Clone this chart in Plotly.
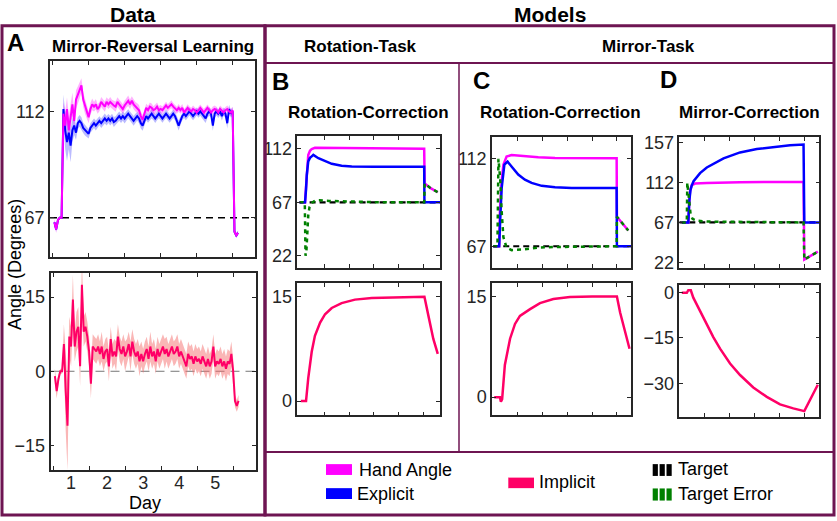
import plotly.graph_objects as go

W, H = 837, 521
FONT = "Liberation Sans, Arial, sans-serif"
INK = "#262626"
FRAME = "#6e1552"
HAND = "#ff00ff"
EXPL = "#0000ff"
IMPL = "#ff0066"
TERR = "#008000"

# ---------------- Panel A: data (one value every 0.05 day, from day 0.55) ----------------
day_start, day_step = 0.55, 0.05

hand_mean = [65, 62, 66, 67, 67, 111, 106, 113, 104, 110,
             115, 108, 117, 119, 121, 123, 117, 114, 112, 109.5,
             113, 115, 114, 115, 113, 114, 116, 115, 114, 116,
             115, 116, 115, 114.5, 114, 116, 115, 114, 113, 114.5,
             115.5, 116.5, 115, 116.5, 115, 114, 113.5, 112.5, 110, 108.5,
             111, 113.5, 112.5, 114, 113.5, 112.5, 113, 114, 112.5, 113,
             112.5, 113.5, 114.5, 113.5, 114.5, 115, 114, 113, 112.5, 113.5,
             112.5, 113.5, 111.5, 112.5, 113.5, 112.5, 112, 113, 112.5, 111.5,
             112.5, 113.5, 112.5, 111.5, 112.5, 113.5, 112.5, 111.5, 112.5, 113,
             112.5, 111.5, 113, 112, 111.5, 112.5, 113, 112, 111.5, 112.5,
             61, 59.5, 60.5]
hand_sem = [1.5, 1.5, 1, 0.5, 0.5, 5, 6, 5, 6, 5,
            5, 4, 4, 3.5, 3.5, 3, 3, 3, 3, 2.5,
            2.5, 2.5, 2, 2.2, 2, 1.9, 2.1, 2, 2.2, 2,
            2, 2.1, 1.9, 2, 2.2, 2, 1.9, 2.1, 2, 2,
            2, 2.2, 2, 1.9, 2.1, 2, 2, 2.2, 2, 2,
            1.8, 1.7, 1.9, 1.8, 1.8, 1.7, 1.9, 1.8, 1.8, 1.7,
            1.6, 1.7, 1.6, 1.5, 1.6, 1.7, 1.6, 1.6, 1.5, 1.6,
            1.5, 1.6, 1.5, 1.4, 1.5, 1.6, 1.5, 1.5, 1.4, 1.5,
            1.5, 1.4, 1.5, 1.6, 1.5, 1.4, 1.5, 1.5, 1.6, 1.5,
            1.5, 1.4, 1.5, 1.6, 1.5, 1.4, 1.5, 1.5, 1.6, 1.5,
            1, 1, 1]

expl_mean = [65, 62, 66, 67, 67, 113, 104, 99, 103, 97.5,
             104, 106, 103, 107, 108, 107, 105, 104, 103, 102.5,
             105, 106, 107, 106, 107, 108, 107, 108, 109, 108,
             109, 108, 109, 107.5, 108, 109, 110, 109, 110, 109,
             110, 111, 110, 109, 108, 109, 110, 109, 107, 106,
             108, 110, 109, 110, 111, 110, 109, 110, 111, 110,
             109, 110, 111, 110, 109, 110, 111, 110, 108, 106,
             108, 110, 111, 110, 111, 112, 111, 110, 111, 112,
             111, 112, 111, 110, 109, 111, 112, 111, 106, 111,
             112, 111, 112, 110, 112, 111, 107, 113, 111, 112,
             61, 59.5, 60.5]
expl_sem = [1, 1, 1, 0.5, 0.5, 6, 8, 8, 7, 7,
            5, 4, 3, 2.5, 2.5, 2.5, 2.2, 2.2, 2, 2,
            2, 1.9, 2, 2.1, 2, 1.9, 2, 2, 2.1, 2,
            1.9, 2, 2, 2.1, 1.9, 2, 2, 1.9, 2, 2.1,
            2, 1.9, 2, 2, 2.1, 2, 1.9, 2, 2.2, 2.2,
            2, 1.9, 1.8, 1.9, 2, 1.8, 1.9, 1.8, 1.9, 1.8,
            1.8, 1.7, 1.8, 1.9, 1.8, 1.7, 1.8, 1.8, 2, 2.1,
            1.8, 1.7, 1.8, 1.7, 1.8, 1.7, 1.8, 1.7, 1.8, 1.7,
            1.7, 1.8, 1.7, 1.8, 1.9, 1.7, 1.8, 1.7, 2.2, 1.8,
            1.7, 1.8, 1.7, 1.9, 1.7, 1.8, 2.2, 1.8, 1.7, 1.8,
            1, 1, 1]

impl_mean = [-1, -4, -1.5, 0, 0, 5.5, -4, -11, 7, 5,
             14.5, 5, 8, 9, 1, 17.5, 8, 9, 7, 4,
             -2.5, 5, 4.5, 4, 5, 3.5, 5, 2.5, 4, 4.5,
             1, 6.5, 3, 4, 3, 7, 4.5, 3.5, 5, 3,
             4, 5.5, 3, 6, 4, 3, 4, 2, 3.5, 2,
             3.5, 4.5, 2.5, 5, 3, 4, 2, 4.5, 3, 4,
             5, 3.5, 4.5, 3, 4, 5, 3.5, 4, 5, 3,
             4, 3, 2, 1, 3.5, 2.5, 3, 1.5, 3, 2,
             2.5, 1.5, 3, 2, 1, 2.5, 1, 2, 5, 1,
             2, 1.5, 2.5, 1, 2, 0.5, 2, 1.5, 3.5, 0,
             -6, -7, -6]
impl_sem = [1.5, 1.5, 1, 0.5, 0.5, 4, 8, 9, 4, 4,
            5, 3, 4, 4, 4, 5, 3, 3, 3, 3,
            3, 2.5, 2.5, 2.5, 2.5, 2.5, 3, 2.5, 2.5, 2.5,
            3, 2.5, 2.5, 2.5, 3, 2.5, 2.5, 2.5, 2.5, 3,
            2.5, 2.5, 3, 2.5, 2.5, 2.5, 2.5, 3, 2.5, 2.5,
            2.5, 2.5, 2.5, 3, 2.5, 2.5, 2.5, 2.5, 2.5, 2.5,
            2.5, 3, 2.5, 2.5, 2.5, 2.5, 2.5, 2.5, 2.5, 2.5,
            2.5, 2.5, 2.5, 2.5, 2.5, 2.5, 2.5, 2.5, 2.5, 2.5,
            2.5, 2.5, 2.5, 2.5, 2.5, 2.5, 2.5, 2.5, 2.5, 2.5,
            2.5, 2.5, 2.5, 2.5, 2.5, 2.5, 2.5, 2.5, 2.5, 2.5,
            1.2, 1.2, 1.2]

days = [round(day_start + day_step * i, 2) for i in range(len(hand_mean))]
day_labels = [1, 2, 3, 4, 5]
day_ticks = [0.5, 1.5, 2.5, 3.5, 4.5, 5.5]
target_angle = 67

# ---------------- Models (x in blocks of trials, ticks at 1..5) ----------------
# B: rotation task, rotation-correction model
b_hand_t = [0, 0.22, 0.26, 0.29, 0.35, 0.42, 0.49, 0.62, 1.0, 2.0, 3.0, 4.0, 5.04, 5.06, 5.3, 5.59]
b_hand = [67, 67, 80, 93, 107, 110.5, 112, 113, 113, 112.8, 112.6, 112.4, 112.3, 83, 79, 75.5]
b_expl_t = [0, 0.22, 0.26, 0.29, 0.35, 0.42, 0.49, 0.555, 0.76, 1.03, 1.3, 1.7, 2.11, 3.0, 4.0, 5.04, 5.05, 5.68]
b_expl = [67, 67, 78, 90, 101.5, 104.5, 105.8, 107, 104.2, 101.5, 99.5, 97.9, 97.3, 97, 97, 97, 67, 67]
b_terr_t = [0, 0.21, 0.24, 0.27, 0.31, 0.35, 0.4, 0.5, 0.62, 0.8, 1.2, 2.0, 3.0, 4.0, 5.04, 5.06, 5.3, 5.59]
b_terr = [67, 67, 22, 24, 40, 56, 63, 66.5, 68.5, 68.7, 68.2, 67.5, 67.2, 67, 67, 83, 79, 75.5]
b_impl_t = [0.05, 0.26, 0.35, 0.49, 0.62, 0.83, 1.03, 1.3, 1.7, 2.24, 2.92, 4.0, 5.05, 5.21, 5.41, 5.59]
b_impl = [0, 0, 3.3, 7.1, 9.4, 11.3, 12.5, 13.4, 14.1, 14.6, 14.85, 14.95, 15, 12.3, 8.95, 6.8]

# C: mirror task, rotation-correction model
c_hand_t = [0, 0.24, 0.27, 0.34, 0.41, 0.54, 0.74, 1.15, 1.82, 2.5, 3.5, 4.99, 5.0, 5.2, 5.46]
c_hand = [67, 67, 85, 100.5, 109, 113.2, 114, 113.5, 112.8, 112.4, 112.3, 112.3, 82.2, 79, 75.1]
c_expl_t = [0, 0.24, 0.28, 0.34, 0.45, 0.58, 0.74, 1.01, 1.28, 1.55, 1.96, 2.5, 3.17, 4.99, 5.0, 5.57]
c_expl = [67, 67, 80, 97, 109, 110.6, 108.1, 103.9, 101.3, 99.6, 98.1, 97.4, 97, 97, 67, 67]
c_terr_t = [0, 0.17, 0.21, 0.28, 0.34, 0.41, 0.54, 0.74, 1.15, 1.82, 2.5, 4.99, 5.0, 5.2, 5.46]
c_terr = [67, 67, 112, 102, 85, 71.7, 66.3, 65, 65.3, 66.3, 66.6, 67, 82.2, 79, 75.1]
c_impl_t = [0.04, 0.27, 0.31, 0.36, 0.47, 0.68, 0.88, 1.08, 1.49, 1.89, 2.43, 3.1, 4.0, 5.0, 5.13, 5.33, 5.51]
c_impl = [0, 0, -0.7, -0.3, 4.8, 8.7, 10.9, 12.1, 13.1, 14.0, 14.6, 14.9, 15, 15, 12.6, 9.6, 7.2]

# D: mirror task, mirror-correction model
d_hand_t = [0.1, 0.36, 0.4, 0.43, 0.5, 0.63, 1.1, 2.43, 4.97, 5.0, 5.54]
d_hand = [67, 67, 91.3, 102.5, 109.1, 111, 111.7, 112.5, 112.8, 25, 34]
d_expl_t = [0.1, 0.36, 0.40, 0.45, 0.5, 0.57, 0.83, 1.1, 1.77, 2.43, 3.1, 3.77, 4.43, 4.97, 5.0, 5.6]
d_expl = [67, 67, 91.3, 104, 109, 113.6, 122.8, 129.2, 139.5, 146.2, 150, 152.5, 154.4, 155.1, 67, 67]
d_terr_t = [0.1, 0.30, 0.32, 0.35, 0.40, 0.45, 0.53, 0.69, 1.1, 2.43, 4.97, 5.0, 5.54]
d_terr = [67, 67, 112, 104, 91, 76.5, 71, 69.1, 68, 67.5, 67, 25, 34]
d_impl_t = [0.1, 0.3, 0.36, 0.46, 0.56, 0.83, 1.1, 1.36, 1.63, 2.03, 2.43, 2.96, 3.5, 4.03, 4.56, 5.0, 5.54]
d_impl = [-0.2, -0.2, 0.65, 0.65, -1.8, -6.2, -10.5, -14.8, -18.6, -23.5, -27.3, -31.4, -34.5, -37, -38.3, -39.2, -30.5]

model_target_t = [0, 5.7]
model_target = [67, 67]


def xd(a, b):
    return [a / W, b / W]


def yd(top, bottom):
    return [1 - bottom / H, 1 - top / H]


def axis(domain, rng, tickvals, anchor, labels=True):
    return dict(domain=domain, range=rng, tickvals=tickvals, anchor=anchor,
                showline=True, linecolor=INK, linewidth=1.5, mirror="ticks",
                ticks="inside", ticklen=4, tickwidth=1, tickcolor=INK,
                showgrid=False, zeroline=False, showticklabels=labels,
                tickfont=dict(family=FONT, size=18, color=INK))


fig = go.Figure()


def line(x, y, color, xa, ya, width=2.5, dash=None):
    fig.add_trace(go.Scatter(x=x, y=y, mode="lines", showlegend=False, hoverinfo="skip",
                             line=dict(color=color, width=width, dash=dash),
                             xaxis=xa, yaxis=ya))


def band(x, m, s, color, xa, ya):
    up = [a + b for a, b in zip(m, s)]
    lo = [a - b for a, b in zip(m, s)]
    fig.add_trace(go.Scatter(x=x + x[::-1], y=up + lo[::-1], fill="toself", fillcolor=color,
                             mode="lines", line=dict(width=0), hoverinfo="skip",
                             showlegend=False, xaxis=xa, yaxis=ya))


# Panel A
band(days, expl_mean, expl_sem, "rgba(60,60,255,0.35)", "x", "y")
band(days, hand_mean, hand_sem, "rgba(255,0,255,0.3)", "x", "y")
line(days, expl_mean, EXPL, "x", "y", width=2)
line(days, hand_mean, HAND, "x", "y", width=2)
band(days, impl_mean, impl_sem, "rgba(245,110,110,0.5)", "x2", "y2")
line(days, impl_mean, IMPL, "x2", "y2", width=2)
# empty trace so the day-label axis gets drawn
fig.add_trace(go.Scatter(x=day_labels, y=[None] * len(day_labels), mode="lines",
                         showlegend=False, hoverinfo="skip", xaxis="x9", yaxis="y2"))

# Model panels
panels = [("x3", "y3", "x4", "y4", b_hand_t, b_hand, b_expl_t, b_expl, b_terr_t, b_terr, b_impl_t, b_impl),
          ("x5", "y5", "x6", "y6", c_hand_t, c_hand, c_expl_t, c_expl, c_terr_t, c_terr, c_impl_t, c_impl),
          ("x7", "y7", "x8", "y8", d_hand_t, d_hand, d_expl_t, d_expl, d_terr_t, d_terr, d_impl_t, d_impl)]
for xa, ya, xb, yb, ht, hv, et, ev, gt, gv, it, iv in panels:
    line(model_target_t, model_target, "black", xa, ya, width=2.2, dash="6px,4px")
    line(ht, hv, HAND, xa, ya)
    line(et, ev, EXPL, xa, ya)
    line(gt, gv, TERR, xa, ya, width=2.5, dash="4px,4px")
    line(it, iv, IMPL, xb, yb)

layout = dict(
    width=W, height=H, margin=dict(l=0, r=0, t=0, b=0),
    paper_bgcolor="white", plot_bgcolor="white", showlegend=False,
    font=dict(family=FONT, color="black"),
    xaxis=axis(xd(50, 255), [0.428, 6.12], day_ticks, "y", labels=False),
    yaxis=axis(yd(58, 257), [50.3, 133.3], [67, 112], "x"),
    xaxis2=axis(xd(50.5, 255.5), [0.428, 6.12], day_ticks, "y2", labels=False),
    yaxis2=axis(yd(273, 473), [-19.9, 19.9], [-15, 0, 15], "x2"),
    xaxis9=dict(overlaying="x2", anchor="y2", side="bottom", range=[0.428, 6.12],
                tickvals=day_labels, ticks="", showline=False, showgrid=False, zeroline=False,
                tickfont=dict(family=FONT, size=18, color=INK)),
    xaxis3=axis(xd(297.3, 440), [-0.093, 5.68], [1, 2, 3, 4, 5], "y3", labels=False),
    yaxis3=axis(yd(134, 268.3), [11.5, 123], [22, 67, 112], "x3"),
    xaxis4=axis(xd(297.3, 440), [-0.093, 5.68], [1, 2, 3, 4, 5], "y4", labels=False),
    yaxis4=axis(yd(283.3, 417.7), [-2.04, 17], [0, 15], "x4"),
    xaxis5=axis(xd(492, 631), [-0.05, 5.57], [1, 2, 3, 4, 5], "y5", labels=False),
    yaxis5=axis(yd(135, 268.3), [55.7, 123.3], [67, 112], "x5"),
    xaxis6=axis(xd(492, 631), [-0.05, 5.57], [1, 2, 3, 4, 5], "y6", labels=False),
    yaxis6=axis(yd(283.3, 417.7), [-2.7, 17], [0, 15], "x6"),
    xaxis7=axis(xd(679.3, 819.3), [0, 5.6], [1, 2, 3, 4, 5], "y7", labels=False),
    yaxis7=axis(yd(135, 268.3), [15.3, 163.7], [22, 67, 112, 157], "x7"),
    xaxis8=axis(xd(679.3, 819.3), [0, 5.6], [1, 2, 3, 4, 5], "y8", labels=False),
    yaxis8=axis(yd(285, 419), [-41, 2.5], [-30, -15, 0], "x8"),
)
fig.update_layout(**layout)


def px_line(x0, y0, x1, y1, width):
    return dict(type="line", xref="paper", yref="paper", x0=x0 / W, x1=x1 / W,
                y0=1 - y0 / H, y1=1 - y1 / H, line=dict(color=FRAME, width=width), layer="above")


def px_rect(x0, y0, x1, y1, color=None, width=3):
    d = dict(type="rect", xref="paper", yref="paper", x0=x0 / W, x1=x1 / W,
             y0=1 - y1 / H, y1=1 - y0 / H, layer="above")
    if color:
        d.update(fillcolor=color, line=dict(width=0))
    else:
        d.update(line=dict(color=FRAME, width=width))
    return d


shapes = [
    dict(type="line", xref="x domain", yref="y", x0=0, x1=1, y0=target_angle, y1=target_angle,
         line=dict(color="black", width=1.5, dash="7px,5px"), layer="below"),
    dict(type="line", xref="x2 domain", yref="y2", x0=0, x1=1, y0=0, y1=0,
         line=dict(color="#777777", width=1, dash="9px,6px"), layer="below"),
    px_rect(2, 22, 265, 519),
    px_rect(265, 22, 834, 519),
    px_line(265, 60, 834, 60, 2),
    px_line(459, 60, 459, 455, 1.5),
    px_line(265, 455, 834, 455, 2),
    # legend swatches
    px_rect(326, 467.3, 352, 478.3, HAND),
    px_rect(326, 491.7, 352, 502.7, EXPL),
    px_rect(508.3, 481, 534, 491.7, IMPL),
]
for i in range(3):
    x0 = 652.7 + i * 6.9
    shapes.append(px_rect(x0, 467.3, x0 + 5.2, 479.3, "black"))
    shapes.append(px_rect(x0, 492, x0 + 5.2, 504.3, TERR))
fig.update_layout(shapes=shapes)


def text(s, x, y, size, bold=False, anchor="center", angle=0):
    fig.add_annotation(text=f"<b>{s}</b>" if bold else s, x=x / W, y=1 - y / H,
                       xref="paper", yref="paper", xanchor=anchor, yanchor="middle",
                       showarrow=False, textangle=angle,
                       font=dict(family=FONT, size=size, color="black"))


text("Data", 133, 11, 21, True)
text("Models", 550, 11, 21, True)
text("A", 16, 39, 24, True)
text("Mirror-Reversal Learning", 153, 43, 17, True)
text("Rotation-Task", 360, 43, 17, True)
text("Mirror-Task", 648, 43, 17, True)
text("B", 280, 79, 24, True)
text("C", 482, 78, 24, True)
text("D", 668, 77, 24, True)
text("Rotation-Correction", 368, 110, 17, True)
text("Rotation-Correction", 560, 110, 17, True)
text("Mirror-Correction", 749, 110, 17, True)
text("Day", 145, 507, 18)
text("Angle (Degrees)", 15, 265, 18, angle=-90)
text("Hand Angle", 357, 473.3, 18, anchor="left")
text("Explicit", 355, 497.3, 18, anchor="left")
text("Implicit", 537, 485.7, 18, anchor="left")
text("Target", 676, 472.7, 18, anchor="left")
text("Target Error", 676, 497.3, 18, anchor="left")

fig.write_html("out.html", config={"displayModeBar": False},
               post_script="document.body.style.margin='0';")
